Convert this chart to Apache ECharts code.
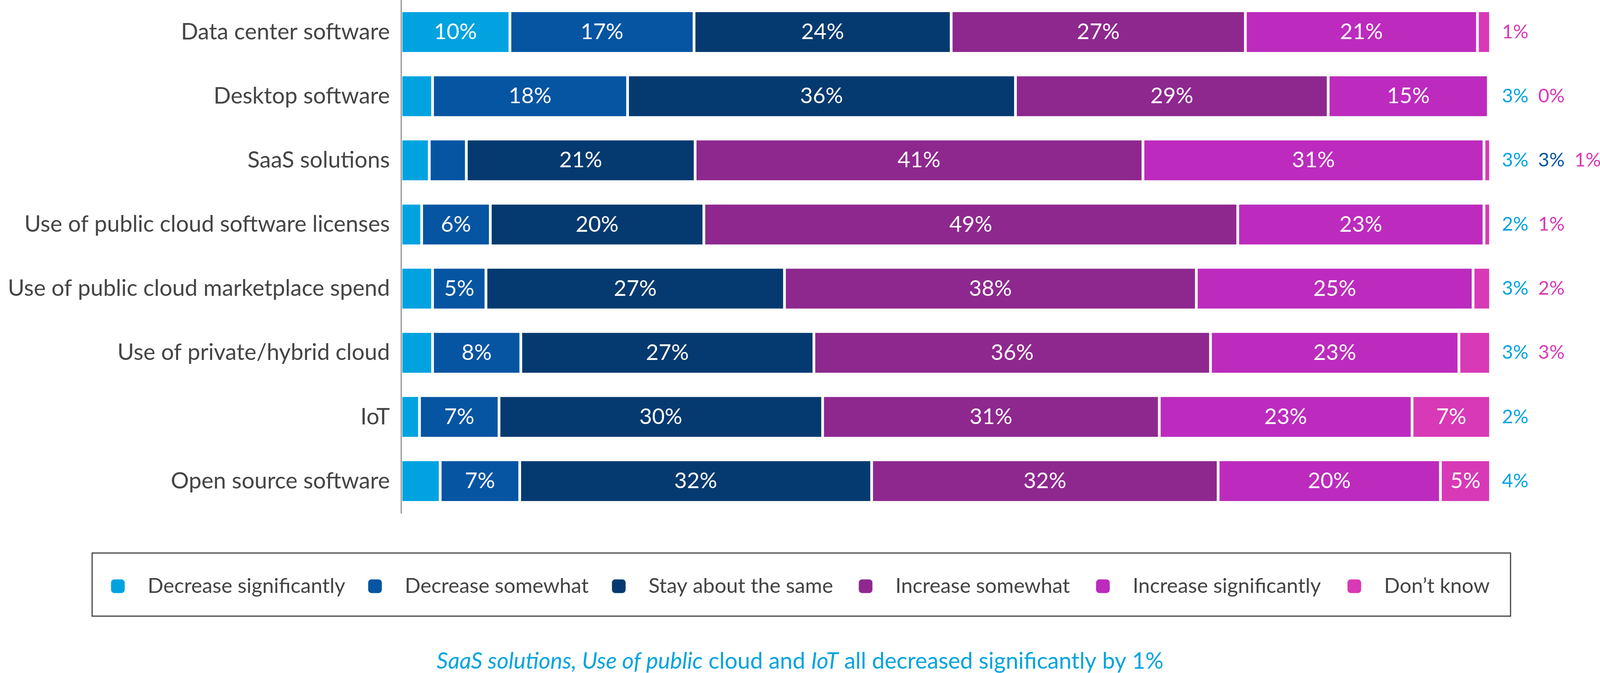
<!DOCTYPE html>
<html><head><meta charset="utf-8">
<script src="https://cdn.jsdelivr.net/npm/echarts@6/dist/echarts.min.js"></script>
<style>html,body{margin:0;padding:0;background:#fff;overflow:hidden}#c{width:100vw;height:1722px}</style>
</head><body><div id="c"></div>
<script>
const categories = [
  'Data center software',
  'Desktop software',
  'SaaS solutions',
  'Use of public cloud software licenses',
  'Use of public cloud marketplace spend',
  'Use of private/hybrid cloud',
  'IoT',
  'Open source software'
];
const seriesNames = ['Decrease significantly', 'Decrease somewhat', 'Stay about the same', 'Increase somewhat', 'Increase significantly', 'Don\u2019t know'];
const seriesColors = ['#00A3E0', '#0555A3', '#053A70', '#8E288F', '#BC2BBD', '#D839B7'];
// bar lengths (% of respondents)
const decreaseSignificantly = [10.0, 2.9, 2.6, 1.9, 2.9, 2.9, 1.7, 3.6];
const decreaseSomewhat      = [16.9, 17.9, 3.4, 6.3, 4.9, 8.1, 7.3, 7.3];
const stayAboutTheSame      = [23.6, 35.6, 21.0, 19.6, 27.4, 26.9, 29.7, 32.3];
const increaseSomewhat      = [27.0, 28.7, 41.1, 49.0, 37.8, 36.4, 30.9, 31.8];
const increaseSignificantly = [21.3, 14.7, 31.3, 22.6, 25.4, 22.8, 23.2, 20.4];
const dontKnow              = [1.2, 0.2, 0.6, 0.6, 1.6, 2.9, 7.2, 4.6];
const allValues = [decreaseSignificantly, decreaseSomewhat, stayAboutTheSame, increaseSomewhat, increaseSignificantly, dontKnow];
const footnoteParts = [
  ['i', 'SaaS solutions, Use of public'], ['n', ' cloud and '], ['i', 'IoT'], ['n', ' all decreased significantly by 1%']
];

const FONT = 'Lato, "Source Sans Pro", "Noto Sans", sans-serif';
const INSIDE_MIN = 5;

const el = document.getElementById('c');
// layout was designed on a 4194px-wide canvas; scale horizontally to the real width
const sx = (el.clientWidth || 4194) / 4194;
const X = v => v * sx;

const series = allValues.map((vals, si) => ({
  name: seriesNames[si],
  type: 'bar',
  stack: 'total',
  barWidth: 109,
  data: vals,
  itemStyle: { color: seriesColors[si], borderColor: '#fff', borderWidth: 3.5 },
  label: {
    show: true,
    position: 'inside',
    color: '#fff',
    fontFamily: FONT,
    fontSize: 56,
    formatter: p => Math.round(p.value) >= INSIDE_MIN ? Math.round(p.value) + '%' : ''
  }
}));

// helper series carrying the labels of the small segments, at the end of each bar
const rich = {};
seriesColors.forEach((c, i) => { rich['s' + i] = { color: c, fontFamily: FONT, fontSize: 49, width: X(95), align: 'left' }; });
series.push({
  name: 'outside',
  type: 'bar',
  stack: 'total',
  barWidth: 109,
  data: categories.map(() => 0),
  itemStyle: { color: 'transparent', borderWidth: 0 },
  label: {
    show: true,
    position: 'right',
    distance: X(30),
    formatter: p => {
      const parts = [];
      allValues.forEach((vals, si) => {
        const r = Math.round(vals[p.dataIndex]);
        if (r < INSIDE_MIN) parts.push('{s' + si + '|' + r + '%}');
      });
      return parts.join('');
    },
    rich: rich
  }
});

const legendLefts = [289, 963, 1602, 2249, 2871, 3530];
const legends = seriesNames.map((n, i) => ({
  data: [n],
  left: X(legendLefts[i]),
  top: 1470,
  padding: 0,
  selectedMode: false,
  icon: 'roundRect',
  itemWidth: 37,
  itemHeight: 37,
  textStyle: { color: '#444', fontFamily: FONT, fontSize: 53, lineHeight: 60, padding: [0, 0, 0, X(54)] }
}));

const chart = echarts.init(el);
chart.setOption({
  backgroundColor: '#fff',
  animation: false,
  grid: { left: X(1051), top: 0, width: X(2856), height: 1313, containLabel: false },
  xAxis: { type: 'value', min: 0, max: 100, show: false },
  yAxis: {
    type: 'category', inverse: true, data: categories, z: 10,
    axisLine: { show: true, lineStyle: { color: '#666', width: 2 } },
    axisTick: { show: false },
    axisLabel: { color: '#454545', fontFamily: FONT, fontSize: 58, margin: X(29) }
  },
  legend: legends,
  title: {
    left: 'center', top: 1658,
    text: footnoteParts.map(p => '{' + p[0] + '|' + p[1] + '}').join(''),
    textStyle: {
      fontWeight: 'normal',
      rich: {
        i: { color: '#00A3E0', fontFamily: FONT, fontSize: 58, fontStyle: 'italic', fontWeight: 'normal' },
        n: { color: '#00A3E0', fontFamily: FONT, fontSize: 58, fontWeight: 'normal' }
      }
    }
  },
  graphic: [{
    type: 'rect', shape: { x: X(241.5), y: 1415, width: X(3718), height: 161.5 },
    style: { fill: 'none', stroke: '#444', lineWidth: 3 }
  }],
  series: series
});
</script></body></html>
